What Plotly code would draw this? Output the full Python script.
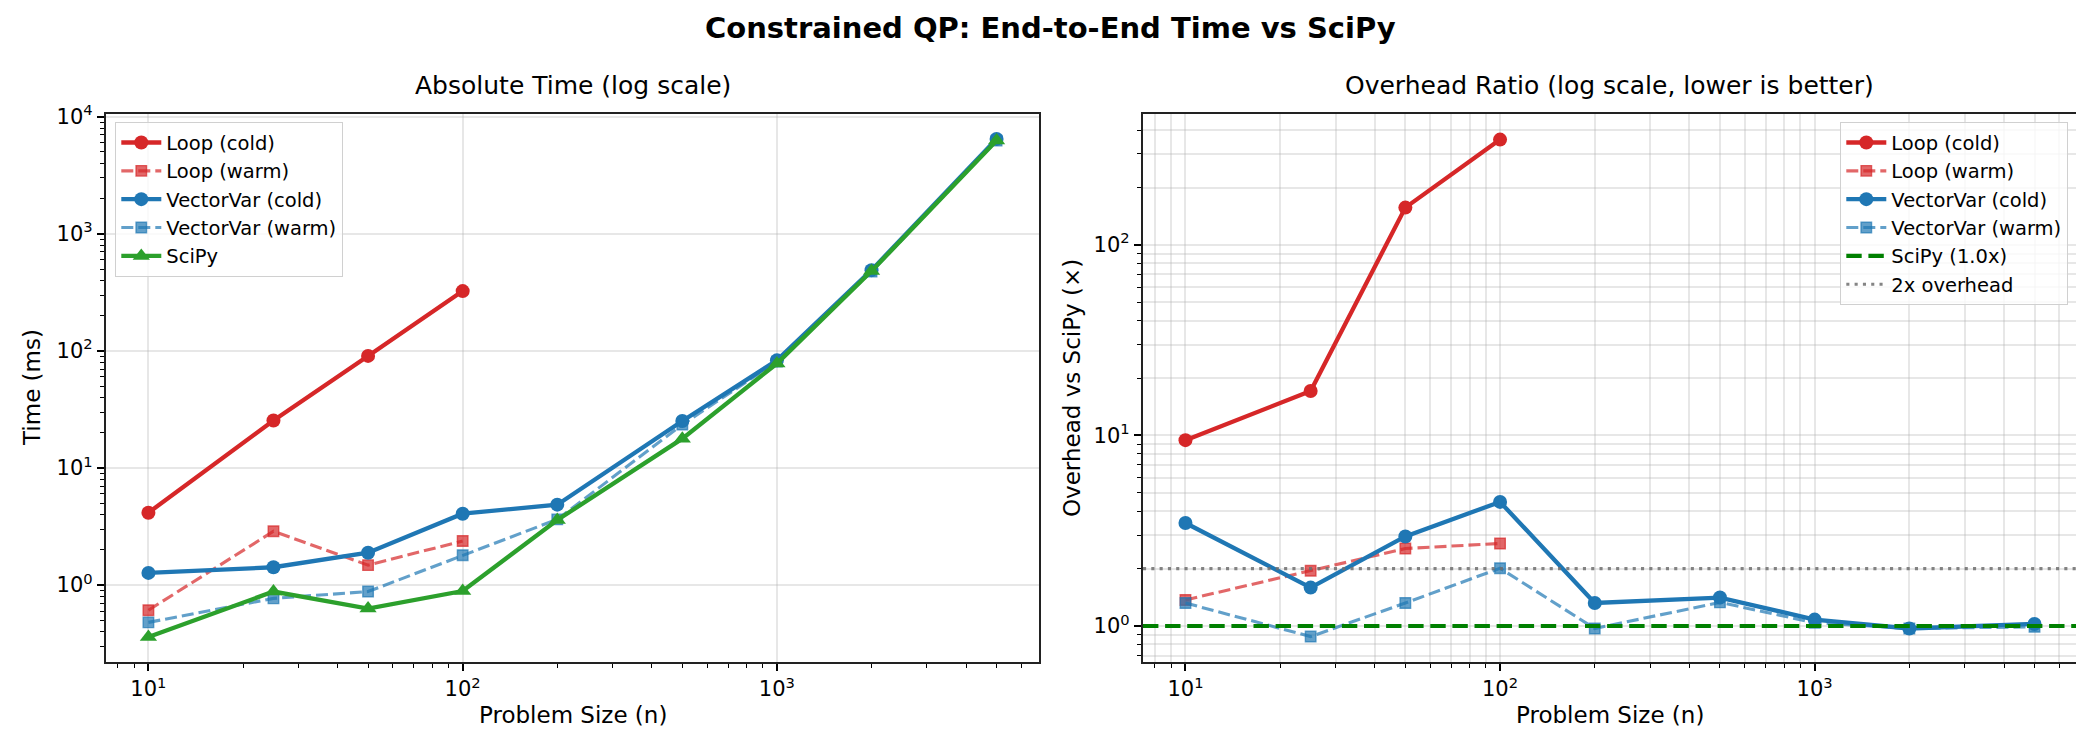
import plotly.graph_objects as go

# ---------------- data ----------------
sizes = [10, 25, 50, 100, 200, 500, 1000, 2000, 5000]
loop_sizes = [10, 25, 50, 100]

loop_cold_ms = [4.15, 25.4, 90.6, 324]
loop_warm_ms = [0.61, 2.88, 1.48, 2.38]
vv_cold_ms = [1.27, 1.42, 1.89, 4.07, 4.86, 25.2, 83, 489, 6460]
vv_warm_ms = [0.48, 0.77, 0.88, 1.80, 3.64, 23.5, 81, 475, 6250]
scipy_ms = [0.36, 0.88, 0.63, 0.89, 3.59, 17.8, 78, 480, 6250]

loop_cold_ratio = [9.45, 17.1, 157, 357]
loop_warm_ratio = [1.37, 1.95, 2.55, 2.71]
vv_cold_ratio = [3.47, 1.59, 2.95, 4.48, 1.32, 1.41, 1.08, 0.97, 1.025]
vv_warm_ratio = [1.32, 0.88, 1.32, 2.01, 0.97, 1.33, 1.04, 0.97, 0.99]

scipy_ref = 1.0
overhead_ref = 2.0

x_major = [10, 100, 1000]
x_major_text = ["10<sup>1</sup>", "10<sup>2</sup>", "10<sup>3</sup>"]
y1_major = [1, 10, 100, 1000, 10000]
y1_major_text = ["10<sup>0</sup>", "10<sup>1</sup>", "10<sup>2</sup>", "10<sup>3</sup>", "10<sup>4</sup>"]
y2_major = [1, 10, 100]
y2_major_text = ["10<sup>0</sup>", "10<sup>1</sup>", "10<sup>2</sup>"]

x_minor = [8, 9, 20, 30, 40, 50, 60, 70, 80, 90, 200, 300, 400, 500, 600, 700, 800, 900,
           2000, 3000, 4000, 5000, 6000]
y1_minor = [0.3, 0.4, 0.5, 0.6, 0.7, 0.8, 0.9, 2, 3, 4, 5, 6, 7, 8, 9,
            20, 30, 40, 50, 60, 70, 80, 90, 200, 300, 400, 500, 600, 700, 800, 900,
            2000, 3000, 4000, 5000, 6000, 7000, 8000, 9000]
y2_minor = [0.7, 0.8, 0.9, 2, 3, 4, 5, 6, 7, 8, 9, 20, 30, 40, 50, 60, 70, 80, 90,
            200, 300, 400]

# ---------------- styles ----------------
RED = "#d62728"
RED_A = "rgba(214,39,40,0.7)"
BLUE = "#1f77b4"
BLUE_A = "rgba(31,119,180,0.7)"
GREEN = "#2ca02c"
FONT = "DejaVu Sans"
W, H = 2084, 740

LW_COLD = 4.3
LW_WARM = 3.1
DASH_WARM = "12px,5px"

fig = go.Figure()


def add_series(x, y, name, color, xa, ya, legend, kind):
    if kind == "cold":
        line = dict(color=color, width=LW_COLD)
        marker = dict(symbol="circle", size=14, color=color, line=dict(width=0))
    elif kind == "warm":
        line = dict(color=color, width=LW_WARM, dash=DASH_WARM)
        marker = dict(symbol="square", size=10.5, color=color, line=dict(width=1.4, color=color))
    else:
        line = dict(color=color, width=LW_COLD)
        marker = dict(symbol="triangle-up", size=15, color=color, line=dict(width=0))
    fig.add_trace(go.Scatter(x=x, y=y, name=name, mode="lines+markers", line=line, marker=marker,
                             xaxis=xa, yaxis=ya, legend=legend))


add_series(loop_sizes, loop_cold_ms, "Loop (cold)", RED, "x", "y", "legend", "cold")
add_series(loop_sizes, loop_warm_ms, "Loop (warm)", RED_A, "x", "y", "legend", "warm")
add_series(sizes, vv_cold_ms, "VectorVar (cold)", BLUE, "x", "y", "legend", "cold")
add_series(sizes, vv_warm_ms, "VectorVar (warm)", BLUE_A, "x", "y", "legend", "warm")
add_series(sizes, scipy_ms, "SciPy", GREEN, "x", "y", "legend", "tri")

add_series(loop_sizes, loop_cold_ratio, "Loop (cold)", RED, "x2", "y2", "legend2", "cold")
add_series(loop_sizes, loop_warm_ratio, "Loop (warm)", RED_A, "x2", "y2", "legend2", "warm")
add_series(sizes, vv_cold_ratio, "VectorVar (cold)", BLUE, "x2", "y2", "legend2", "cold")
add_series(sizes, vv_warm_ratio, "VectorVar (warm)", BLUE_A, "x2", "y2", "legend2", "warm")

fig.add_shape(type="line", xref="x2 domain", yref="y2", x0=0, x1=1, y0=scipy_ref, y1=scipy_ref,
              line=dict(color="#008000", width=4.2, dash="15.4px,6.7px"),
              name="SciPy (1.0x)", showlegend=True, legend="legend2", legendrank=2000)
fig.add_shape(type="line", xref="x2 domain", yref="y2", x0=0, x1=1, y0=overhead_ref, y1=overhead_ref,
              line=dict(color="rgba(110,110,110,0.85)", width=3.1, dash="3.1px,5.2px"),
              name="2x overhead", showlegend=True, legend="legend2", legendrank=2001)

GRID = "rgba(176,176,176,0.3)"
tickfont = dict(family=FONT, size=21, color="black")


def axis(domain, rng, tv, tt, minor_vals, minor_grid, anchor):
    return dict(
        type="log", domain=domain, range=rng, anchor=anchor,
        tickmode="array", tickvals=tv, ticktext=tt, tickfont=tickfont,
        ticks="outside", ticklen=7.3, tickwidth=1.7, tickcolor="black",
        showline=True, linecolor="#222222", linewidth=1.7, mirror=True,
        showgrid=True, gridcolor=GRID, gridwidth=1.7, zeroline=False,
        minor=dict(tickmode="array", tickvals=minor_vals, ticks="outside", ticklen=4.2,
                   tickwidth=1.25, tickcolor="black", showgrid=minor_grid,
                   gridcolor=GRID, gridwidth=1.7),
        automargin=False,
    )


xd1 = [98 / W, 1031 / W]
xd2 = [1135 / W, 2069 / W]
yd = [1 - 654 / H, 1 - 106 / H]

legend_common = dict(font=dict(family=FONT, size=19.5, color="black"),
                     bgcolor="rgba(255,255,255,0.8)", bordercolor="#d0d0d0", borderwidth=1.3,
                     xref="paper", yref="paper", yanchor="top", tracegroupgap=0,
                     itemwidth=40)

fig.update_layout(
    width=W, height=H, margin=dict(l=0, r=0, t=0, b=0),
    paper_bgcolor="white", plot_bgcolor="white",
    font=dict(family=FONT, color="black"),
    xaxis=axis(xd1, [0.865, 3.834], x_major, x_major_text, x_minor, False, "y"),
    yaxis=axis(yd, [-0.657, 4.023], y1_major, y1_major_text, y1_minor, False, "x"),
    xaxis2=axis(xd2, [0.865, 3.834], x_major, x_major_text, x_minor, True, "y2"),
    yaxis2=axis(yd, [-0.189, 2.687], y2_major, y2_major_text, y2_minor, True, "x2"),
    legend=dict(x=107 / W, y=1 - 114 / H, xanchor="left", **legend_common),
    legend2=dict(x=2060 / W, y=1 - 114 / H, xanchor="right", **legend_common),
    showlegend=True,
)

ann = [
    dict(text="<b>Constrained QP: End-to-End Time vs SciPy</b>", x=0.5, y=1 - 20 / H,
         xanchor="center", yanchor="middle", font=dict(size=29)),
    dict(text="Absolute Time (log scale)", x=(xd1[0] + xd1[1]) / 2, y=1 - 94 / H,
         xanchor="center", yanchor="bottom", font=dict(size=25)),
    dict(text="Overhead Ratio (log scale, lower is better)", x=(xd2[0] + xd2[1]) / 2, y=1 - 94 / H,
         xanchor="center", yanchor="bottom", font=dict(size=25)),
    dict(text="Problem Size (n)", x=(xd1[0] + xd1[1]) / 2, y=1 - 707 / H,
         xanchor="center", yanchor="middle", font=dict(size=23)),
    dict(text="Problem Size (n)", x=(xd2[0] + xd2[1]) / 2, y=1 - 707 / H,
         xanchor="center", yanchor="middle", font=dict(size=23)),
    dict(text="Time (ms)", x=24 / W, y=(yd[0] + yd[1]) / 2, textangle=-90,
         xanchor="center", yanchor="middle", font=dict(size=23)),
    dict(text="Overhead vs SciPy (×)", x=1064 / W, y=(yd[0] + yd[1]) / 2, textangle=-90,
         xanchor="center", yanchor="middle", font=dict(size=23)),
]
for a in ann:
    a.update(xref="paper", yref="paper", showarrow=False)
    a["font"].update(family=FONT, color="black")
fig.update_layout(annotations=ann)

fig.write_html("out.html")
